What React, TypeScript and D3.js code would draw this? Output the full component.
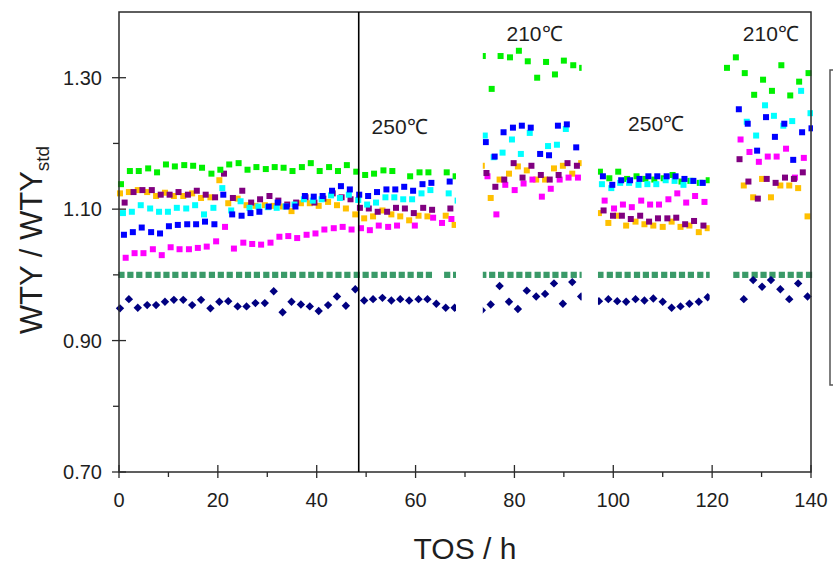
import React, { useEffect, useRef } from "react";
import * as d3 from "d3";

// time grids (h) of the four measuring periods
const seg1Times = [0.4, 2.2, 4.0, 5.9, 7.7, 9.5, 11.3, 13.2, 15.0, 16.8, 18.7, 20.5, 22.3, 24.2, 26.0, 27.8, 29.7, 31.5, 33.3, 35.1, 37.0, 38.8, 40.6, 42.5, 44.3, 46.1, 48.0, 49.8, 51.6, 53.5, 55.3, 57.1, 58.9, 60.8, 62.6, 64.4, 66.3, 68.1];
const seg2Times = [73.6, 75.4, 77.2, 79.1, 80.9, 82.7, 84.6, 86.4, 88.2, 90.0, 91.9, 93.7];
const seg3Times = [97.3, 99.2, 101.0, 102.8, 104.7, 106.5, 108.3, 110.2, 112.0, 113.8, 115.6, 117.5, 119.3];
const seg4Times = [123.0, 124.8, 126.6, 128.5, 130.3, 132.1, 134.0, 135.8, 137.6, 139.5];
const segTimes = [seg1Times, seg2Times, seg3Times, seg4Times];
const segLimits = [[-1, 68.2], [73.6, 93.6], [96.9, 119.5], [122.3, 140.4]];

const greenValues = [
  [1.138, 1.158, 1.158, 1.162, 1.156, 1.168, 1.165, 1.167, 1.166, 1.163, 1.154, 1.160, 1.168, 1.170, 1.160, 1.164, 1.161, 1.164, 1.163, 1.158, 1.164, 1.170, 1.158, 1.164, 1.158, 1.167, 1.157, 1.152, 1.154, 1.159, 1.158, null, 1.150, 1.156, 1.156, null, 1.156, 1.150],
  [1.333, 1.283, 1.333, 1.331, 1.341, 1.325, 1.300, 1.324, 1.305, 1.326, 1.319, 1.315],
  [1.157, 1.147, 1.157, 1.146, 1.150, 1.146, 1.145, 1.147, 1.152, 1.142, 1.143, 1.140, 1.144],
  [1.315, 1.331, 1.307, 1.274, 1.297, 1.280, 1.319, 1.273, 1.294, 1.307],
];
const orangeValues = [
  [1.124, 1.126, 1.129, 1.126, 1.120, 1.125, 1.120, 1.120, 1.124, 1.117, 1.118, 1.144, 1.109, 1.116, 1.106, 1.105, 1.106, 1.105, 1.104, 1.097, 1.109, 1.109, 1.105, 1.111, 1.106, 1.101, 1.092, 1.086, 1.089, 1.098, 1.092, 1.089, 1.083, 1.090, 1.089, null, 1.090, 1.076],
  [1.166, 1.117, 1.145, 1.154, 1.165, 1.159, 1.145, 1.145, 1.162, 1.166, 1.154, 1.170],
  [1.094, 1.079, 1.090, 1.075, 1.081, 1.077, 1.075, 1.073, 1.081, 1.073, 1.075, 1.065, 1.071],
  [null, null, 1.136, 1.118, 1.146, 1.118, 1.136, 1.136, 1.132, 1.089],
];
const purpleValues = [
  [1.110, 1.126, 1.129, 1.129, 1.122, 1.122, 1.126, 1.122, 1.128, 1.122, 1.118, 1.154, 1.117, 1.128, 1.110, 1.115, 1.120, 1.113, 1.107, 1.110, 1.118, 1.110, 1.116, 1.124, 1.118, 1.115, 1.102, 1.101, 1.096, 1.096, 1.102, 1.101, 1.094, 1.102, 1.099, null, 1.101, null],
  [1.155, 1.134, 1.145, 1.170, 1.148, 1.166, 1.152, 1.145, 1.152, 1.170, 1.166, null],
  [1.098, 1.090, 1.090, 1.085, 1.090, 1.081, 1.086, 1.086, 1.087, 1.077, 1.082, 1.075, null],
  [null, 1.176, 1.142, 1.116, 1.146, 1.140, 1.148, 1.146, 1.156, null],
];
const cyanValues = [
  [1.094, 1.096, 1.106, 1.101, 1.096, 1.096, 1.102, 1.101, 1.106, 1.092, 1.102, 1.132, 1.098, 1.112, 1.102, 1.104, 1.103, 1.102, 1.104, 1.107, 1.115, 1.113, 1.115, 1.121, 1.117, 1.122, 1.114, 1.107, 1.110, 1.118, 1.118, 1.115, 1.115, 1.124, 1.129, null, 1.124, 1.113],
  [1.212, 1.179, 1.186, 1.206, 1.184, 1.216, null, 1.196, 1.198, 1.222, null, null],
  [1.138, 1.132, 1.140, 1.140, 1.137, 1.138, 1.138, 1.144, 1.143, 1.137, 1.143, 1.140, null],
  [null, null, 1.233, 1.212, 1.258, 1.242, 1.227, 1.234, 1.280, 1.246],
];
const blueValues = [
  [1.061, 1.065, 1.072, 1.065, 1.063, 1.074, 1.076, 1.077, 1.077, 1.081, 1.077, 1.122, 1.092, 1.090, 1.094, 1.096, 1.104, 1.110, 1.104, 1.104, 1.120, 1.119, 1.120, 1.128, 1.135, 1.130, 1.122, 1.120, 1.126, 1.130, 1.130, 1.134, 1.128, 1.138, 1.140, null, 1.142, null],
  [1.202, 1.180, 1.217, 1.224, 1.227, 1.224, 1.184, 1.182, 1.227, 1.229, 1.194, null],
  [1.150, 1.137, 1.144, 1.144, 1.146, 1.150, 1.150, 1.150, 1.150, 1.146, 1.143, 1.140, null],
  [null, 1.252, 1.230, 1.189, 1.240, 1.210, 1.230, 1.175, 1.217, 1.223],
];
const magentaValues = [
  [1.026, 1.033, 1.033, 1.039, 1.030, 1.042, 1.039, 1.039, 1.041, 1.043, 1.051, 1.073, 1.040, 1.049, 1.047, 1.046, 1.049, 1.058, 1.059, 1.056, 1.061, 1.063, 1.069, 1.071, 1.073, 1.069, 1.071, 1.068, 1.075, 1.073, 1.075, null, 1.075, null, 1.087, 1.079, 1.085, null],
  [1.150, 1.092, 1.137, 1.129, 1.139, 1.145, 1.119, 1.131, 1.145, 1.148, 1.148, null],
  [1.113, 1.101, 1.107, 1.103, 1.113, 1.107, 1.107, 1.115, 1.124, 1.110, 1.120, 1.111, null],
  [null, 1.206, 1.187, 1.172, 1.180, 1.180, 1.192, 1.148, 1.178, null],
];
const stdValues = [
  [1.0, 1.0, 1.0, 1.0, 1.0, 1.0, 1.0, 1.0, 1.0, 1.0, 1.0, 1.0, 1.0, 1.0, 1.0, 1.0, 1.0, 1.0, 1.0, 1.0, 1.0, 1.0, 1.0, 1.0, 1.0, 1.0, 1.0, 1.0, 1.0, 1.0, 1.0, 1.0, 1.0, 1.0, 1.0, null, 1.0, 1.0],
  [1.0, 1.0, 1.0, 1.0, 1.0, 1.0, 1.0, 1.0, 1.0, 1.0, 1.0, 1.0],
  [1.0, 1.0, 1.0, 1.0, 1.0, 1.0, 1.0, 1.0, 1.0, 1.0, 1.0, 1.0, 1.0],
  [null, 1.0, 1.0, 1.0, 1.0, 1.0, 1.0, 1.0, 1.0, 1.0],
];
const navyValues = [
  [0.949, 0.963, 0.950, 0.954, 0.954, 0.959, 0.962, 0.962, 0.954, 0.962, 0.949, 0.959, 0.960, 0.952, 0.952, 0.957, 0.957, 0.975, 0.943, 0.959, 0.955, 0.952, 0.945, 0.954, 0.967, 0.953, 0.978, 0.961, 0.963, 0.965, 0.961, 0.963, 0.961, 0.963, 0.963, 0.956, 0.950, 0.950],
  [0.946, 0.955, 0.983, 0.959, 0.948, 0.976, 0.967, 0.971, 0.987, 0.956, 0.989, 0.967],
  [0.960, 0.963, 0.960, 0.959, 0.963, 0.961, 0.964, 0.959, 0.950, 0.952, 0.956, 0.959, 0.966],
  [null, null, 0.963, 0.992, 0.982, 0.992, 0.978, 0.963, 0.987, 0.967],
];

// sampling offset (h) of each channel relative to the period grid
const series = [
  { name: "std", values: stdValues, lag: 0.1, color: "#3a9a68", shape: "square" },
  { name: "navy", values: navyValues, lag: -0.2, color: "#000080", shape: "diamond" },
  { name: "orange", values: orangeValues, lag: -0.2, color: "#ffc000", shape: "square" },
  { name: "magenta", values: magentaValues, lag: 0.95, color: "#ff00ff", shape: "square" },
  { name: "purple", values: purpleValues, lag: 0.74, color: "#800080", shape: "square" },
  { name: "green", values: greenValues, lag: 0, color: "#00f000", shape: "square" },
  { name: "cyan", values: cyanValues, lag: 0.4, color: "#00ffff", shape: "square" },
  { name: "blue", values: blueValues, lag: 0.6, color: "#0000ff", shape: "square" },
];

const yMajor = [0.7, 0.9, 1.1, 1.3];
const yMinor = [0.8, 1.0, 1.2];
const xMajor = [0, 20, 40, 60, 80, 100, 120, 140];
const xMinor = [10, 30, 50, 70, 90, 110, 130];
const tempLabels = ["250℃", "210℃", "250℃", "210℃"];
const tempTimes = [51.1, 78.4, 103.0, 126.2];
const tempLevels = [1.2145, 1.3565, 1.219, 1.3565];
const switchTime = 48.5;

function Chart() {
  const ref = useRef(null);

  useEffect(() => {
    const svg = d3.select(ref.current);
    svg.selectAll("*").remove();

    const x = d3.scaleLinear().domain([0, 140]).range([119, 811]);
    const y = d3.scaleLinear().domain([0.7, 1.4]).range([472, 12]);
    const font = "'Liberation Sans', Arial, Helvetica, sans-serif";
    const ink = "#1e1e1e";

    const defs = svg.append("defs");
    segLimits.forEach((lim, k) => {
      defs.append("clipPath").attr("id", "seg" + k)
        .append("rect")
        .attr("x", x(lim[0])).attr("y", 0)
        .attr("width", x(lim[1]) - x(lim[0])).attr("height", 567);
    });

    // points
    series.forEach(s => {
      s.values.forEach((vals, k) => {
        const pts = vals
          .map((v, i) => ({ t: segTimes[k][i] + s.lag, v }))
          .filter(d => d.v !== null);
        const g = svg.append("g").attr("clip-path", `url(#seg${k})`);
        if (s.shape === "diamond") {
          g.selectAll("path").data(pts).join("path")
            .attr("d", d => {
              const cx = x(d.t), cy = y(d.v), r = 4.2;
              return `M${cx},${cy - r}L${cx + r},${cy}L${cx},${cy + r}L${cx - r},${cy}Z`;
            })
            .attr("fill", s.color);
        } else {
          const sz = s.name === "std" ? 6.2 : 6;
          g.selectAll("rect").data(pts).join("rect")
            .attr("x", d => x(d.t) - sz / 2)
            .attr("y", d => y(d.v) - sz / 2)
            .attr("width", sz).attr("height", sz)
            .attr("fill", s.color);
        }
      });
    });

    // frame
    svg.append("rect")
      .attr("x", x(0)).attr("y", y(1.4))
      .attr("width", x(140) - x(0)).attr("height", y(0.7) - y(1.4))
      .attr("fill", "none").attr("stroke", "#2a2a2a").attr("stroke-width", 1.5);

    // switch line 250 -> 210
    svg.append("line")
      .attr("x1", x(switchTime)).attr("x2", x(switchTime))
      .attr("y1", y(1.4)).attr("y2", y(0.7))
      .attr("stroke", "#000").attr("stroke-width", 1.6);

    // y ticks
    svg.selectAll(".ymaj").data(yMajor).join("line").attr("class", "ymaj")
      .attr("x1", x(0) - 7).attr("x2", x(0) + 7)
      .attr("y1", d => y(d)).attr("y2", d => y(d))
      .attr("stroke", "#2a2a2a").attr("stroke-width", 1.3);
    svg.selectAll(".ymin").data(yMinor).join("line").attr("class", "ymin")
      .attr("x1", x(0) - 6).attr("x2", x(0))
      .attr("y1", d => y(d)).attr("y2", d => y(d))
      .attr("stroke", "#2a2a2a").attr("stroke-width", 1.3);
    svg.selectAll(".ylab").data(yMajor).join("text").attr("class", "ylab")
      .attr("x", 102).attr("y", d => y(d) + 7)
      .attr("text-anchor", "end")
      .style("font-family", font).style("font-size", "20px").attr("fill", ink)
      .text(d => d.toFixed(2));

    // x ticks
    svg.selectAll(".xmaj").data(xMajor).join("line").attr("class", "xmaj")
      .attr("x1", d => x(d)).attr("x2", d => x(d))
      .attr("y1", y(0.7) - 7).attr("y2", y(0.7) + 6)
      .attr("stroke", "#2a2a2a").attr("stroke-width", 1.3);
    svg.selectAll(".xmin").data(xMinor).join("line").attr("class", "xmin")
      .attr("x1", d => x(d)).attr("x2", d => x(d))
      .attr("y1", y(0.7)).attr("y2", y(0.7) + 5)
      .attr("stroke", "#2a2a2a").attr("stroke-width", 1.3);
    svg.selectAll(".xlab").data(xMajor).join("text").attr("class", "xlab")
      .attr("x", d => x(d)).attr("y", 507)
      .attr("text-anchor", "middle")
      .style("font-family", font).style("font-size", "20px").attr("fill", ink)
      .text(d => d);

    // temperature labels
    svg.selectAll(".temp").data(tempLabels).join("text").attr("class", "temp")
      .attr("x", (d, i) => x(tempTimes[i])).attr("y", (d, i) => y(tempLevels[i]))
      .style("font-family", font).style("font-size", "21px").attr("fill", ink)
      .text(d => d);

    // axis titles
    svg.append("text")
      .attr("x", 465).attr("y", 559)
      .attr("text-anchor", "middle")
      .style("font-family", font).style("font-size", "30px").attr("fill", ink)
      .text("TOS / h");

    const yt = svg.append("text")
      .attr("transform", "translate(42,240) rotate(-90)")
      .attr("text-anchor", "middle")
      .style("font-family", font).style("font-size", "31px").attr("fill", ink);
    yt.append("tspan").text("WTY / WTY");
    yt.append("tspan").attr("dy", 7).style("font-size", "19px").text("std");

    // edge of the legend box (cut off)
    svg.append("path")
      .attr("d", "M833,70H830V385H833")
      .attr("fill", "none").attr("stroke", "#555").attr("stroke-width", 1.5);
  }, []);

  return (
    <svg ref={ref} width={833} height={567}
      style={{ position: "absolute", left: 0, top: 0, background: "#fff" }} />
  );
}

export default function App() {
  return <Chart />;
}
